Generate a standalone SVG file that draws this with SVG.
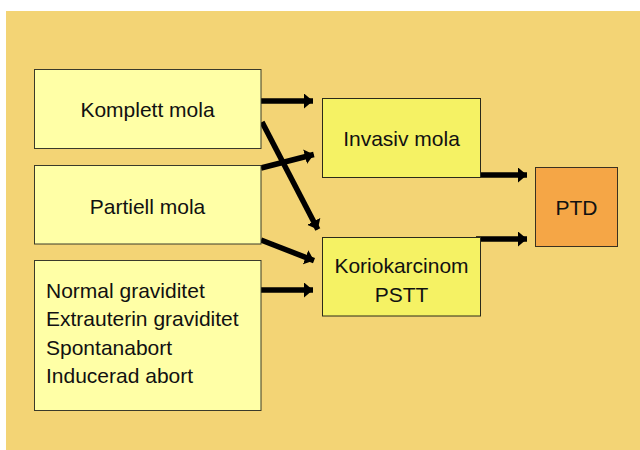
<svg xmlns="http://www.w3.org/2000/svg" width="640" height="450" viewBox="0 0 640 450">
  <defs>
    <style>
      .lbl { font-family: "Liberation Sans", Arial, sans-serif; font-size: 21px; fill: #111; }
      .src { fill: #FFFFA6; stroke: #3a3a2a; stroke-width: 1; }
      .mid { fill: #F5F264; stroke: #2a2a1a; stroke-width: 1; }
      .end { fill: #F5A646; stroke: #3a3020; stroke-width: 1; }
      .conn { stroke: #000; stroke-width: 5.5; fill: none; }
    </style>
    <marker id="ah" markerUnits="userSpaceOnUse" viewBox="0 0 9 15" refX="9" refY="7.5" markerWidth="9" markerHeight="15" orient="auto">
      <polygon points="0,0 9,7.5 0,15" fill="#000"/>
    </marker>
  </defs>
  <rect x="6" y="11" width="634" height="439" fill="#F3D475"/>

  <g id="connectors">
    <path class="conn" d="M261,101 L313,101" marker-end="url(#ah)"/>
    <path class="conn" d="M262,122 L317.8,229.4" marker-end="url(#ah)"/>
    <path class="conn" d="M261,168 L313.8,154.5" marker-end="url(#ah)"/>
    <path class="conn" d="M261,240 L314,260.6" marker-end="url(#ah)"/>
    <path class="conn" d="M261,290 L313,290" marker-end="url(#ah)"/>
    <path class="conn" d="M476,175 L527,175" marker-end="url(#ah)"/>
    <path class="conn" d="M476,239 L527,239" marker-end="url(#ah)"/>
  </g>

  <g id="komplett">
    <rect class="src" x="34.5" y="69.5" width="226.5" height="79"/>
    <text class="lbl" x="147.5" y="117" text-anchor="middle">Komplett mola</text>
  </g>
  <g id="partiell">
    <rect class="src" x="34.5" y="165.5" width="226.5" height="78.5"/>
    <text class="lbl" x="147.5" y="214" text-anchor="middle">Partiell mola</text>
  </g>
  <g id="normal">
    <rect class="src" x="34.5" y="260.5" width="226.5" height="150"/>
    <text class="lbl" x="46" y="297.5">Normal graviditet</text>
    <text class="lbl" x="46" y="326">Extrauterin graviditet</text>
    <text class="lbl" x="46" y="354.5">Spontanabort</text>
    <text class="lbl" x="46" y="383">Inducerad abort</text>
  </g>
  <g id="invasiv">
    <rect class="mid" x="322.5" y="98.5" width="158" height="79"/>
    <text class="lbl" x="401.5" y="145.5" text-anchor="middle">Invasiv mola</text>
  </g>
  <g id="korio">
    <rect class="mid" x="322.5" y="237.5" width="158" height="78.5"/>
    <text class="lbl" x="401.5" y="273" text-anchor="middle">Koriokarcinom</text>
    <text class="lbl" x="401.5" y="301.5" text-anchor="middle">PSTT</text>
  </g>
  <g id="ptd">
    <rect class="end" x="535.5" y="167.5" width="82" height="79"/>
    <text class="lbl" x="576.5" y="215" text-anchor="middle">PTD</text>
  </g>
</svg>
